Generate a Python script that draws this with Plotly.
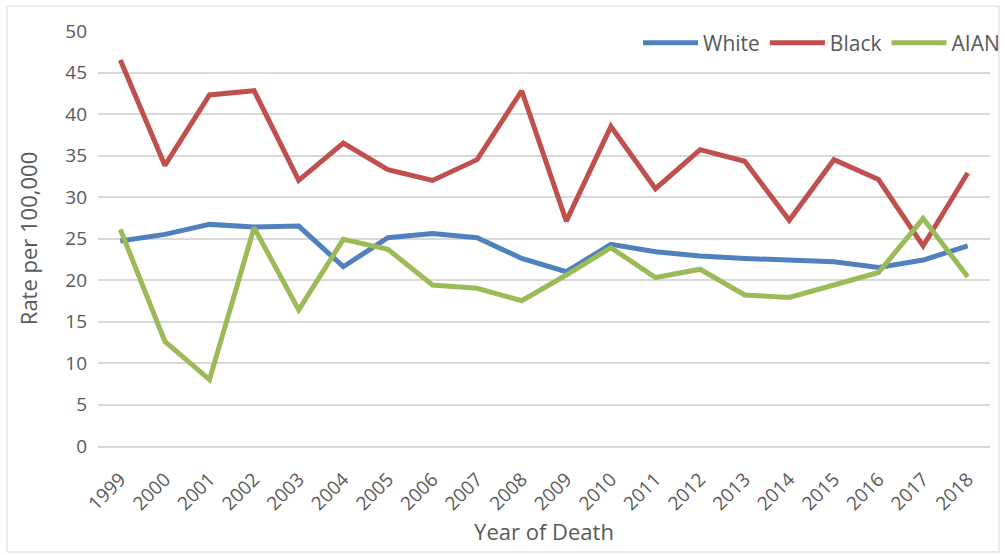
import plotly.graph_objects as go

years = [str(y) for y in range(1999, 2019)]

white = [24.7, 25.5, 26.7, 26.4, 26.5, 21.6, 25.1, 25.6, 25.1, 22.6,
         21.0, 24.3, 23.4, 22.9, 22.6, 22.4, 22.2, 21.5, 22.4, 24.1]
black = [46.5, 33.8, 42.3, 42.8, 32.0, 36.5, 33.3, 32.0, 34.5, 42.8,
         27.1, 38.5, 31.0, 35.7, 34.3, 27.2, 34.5, 32.1, 24.1, 32.9]
aian = [26.1, 12.6, 8.0, 26.3, 16.4, 24.9, 23.7, 19.4, 19.0, 17.5,
        20.6, 23.9, 20.3, 21.3, 18.2, 17.9, 19.4, 20.9, 27.4, 20.4]

y_ticks = [0, 5, 10, 15, 20, 25, 30, 35, 40, 45, 50]

series = [
    ("White", white, "#4F81BD"),
    ("Black", black, "#C0504D"),
    ("AIAN", aian, "#9BBB59"),
]

FONT = "Open Sans, Lato, sans-serif"
TEXT = "#595959"
GRID = "#D9D9D9"

fig = go.Figure()
for name, vals, color in series:
    fig.add_trace(go.Scatter(
        x=years, y=vals, name=name, mode="lines",
        line=dict(color=color, width=5, shape="linear"),
    ))

fig.update_layout(
    width=1005, height=555,
    margin=dict(l=98, r=15, t=31, b=109, autoexpand=False),
    paper_bgcolor="white", plot_bgcolor="white",
    font=dict(family=FONT, color=TEXT),
    showlegend=True,
    legend=dict(
        orientation="h", xref="container", x=1.0, xanchor="right",
        y=0.971, yanchor="middle",
        font=dict(size=21, color=TEXT), bgcolor="rgba(0,0,0,0)",
        traceorder="normal", itemwidth=55,
    ),
    xaxis=dict(
        type="category", range=[-0.5, len(years) - 0.5],
        tickangle=-45, tickfont=dict(size=19, color=TEXT),
        showgrid=False, showline=True, linecolor=GRID, linewidth=1.5,
        ticks="", ticklabelstandoff=13, automargin=False,
        title=dict(text="Year of Death", font=dict(size=22, color=TEXT), standoff=8),
    ),
    yaxis=dict(
        range=[0, 50], tickvals=y_ticks, tickfont=dict(size=19, color=TEXT),
        showgrid=True, gridcolor=GRID, gridwidth=1.5, zeroline=False,
        showline=False, ticks="", ticklabelstandoff=10, automargin=False,
        title=dict(text="Rate per 100,000", font=dict(size=22, color=TEXT), standoff=21),
    ),
    shapes=[dict(
        type="rect", xref="paper", yref="paper",
        x0=-0.102, x1=1.0101, y0=-0.2554, y1=1.060,
        line=dict(color=GRID, width=1), fillcolor="rgba(0,0,0,0)", layer="below",
    )],
)

fig.write_html("out.html")
